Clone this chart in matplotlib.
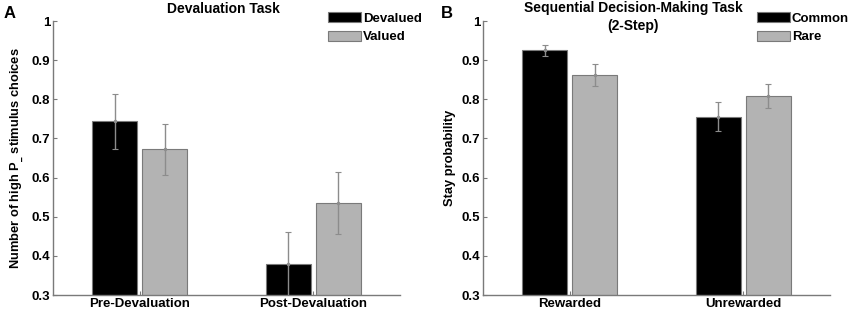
import numpy as np
import matplotlib
matplotlib.use('Agg')
import matplotlib.pyplot as plt
from matplotlib.patches import Patch

plt.rcParams['font.family'] = ['Liberation Sans', 'DejaVu Sans']
plt.rcParams['font.weight'] = 'bold'

# 패널 A 데이터
groups_a = ['Pre-Devaluation', 'Post-Devaluation']
devalued = [0.744, 0.379]
devalued_err = [0.070, 0.083]
valued = [0.672, 0.535]
valued_err = [0.065, 0.080]

# 패널 B 데이터
groups_b = ['Rewarded', 'Unrewarded']
common = [0.925, 0.756]
common_err = [0.014, 0.037]
rare = [0.862, 0.809]
rare_err = [0.028, 0.031]

black = '#000000'
gray = '#b3b3b3'
edge = '#7a7a7a'
errc = '#8c8c8c'

fig = plt.figure(figsize=(8.51, 3.10), dpi=100)
W, H = 851, 310


def make_axes(x0, x1, y_top=21, y_bot=295):
    return fig.add_axes([x0 / W, 1 - y_bot / H, (x1 - x0) / W, (y_bot - y_top) / H])


def draw_panel(ax, groups, v1, e1, v2, e2, ylabel):
    x = np.arange(1, len(groups) + 1)
    off = 0.143
    w = 0.26
    ax.bar(x - off, v1, w, color=black, edgecolor=edge, linewidth=0.8, zorder=2)
    ax.bar(x + off, v2, w, color=gray, edgecolor=edge, linewidth=0.8, zorder=2)
    for xs, vs, es in [(x - off, v1, e1), (x + off, v2, e2)]:
        ax.errorbar(xs, vs, yerr=es, fmt='.', color=errc, ecolor=errc,
                    elinewidth=1.0, capsize=2.5, capthick=0.8, markersize=3, zorder=3)
    ax.set_xlim(0.5, len(groups) + 0.5)
    ax.set_ylim(0.3, 1.0)
    ax.set_yticks([0.3, 0.4, 0.5, 0.6, 0.7, 0.8, 0.9, 1.0])
    ax.set_yticklabels(['0.3', '0.4', '0.5', '0.6', '0.7', '0.8', '0.9', '1'])
    ax.set_xticks(x)
    ax.set_xticklabels(groups)
    ax.tick_params(direction='in', length=3, color=edge, labelsize=9.5, pad=2)
    for lab in ax.get_xticklabels() + ax.get_yticklabels():
        lab.set_fontweight('bold')
    ax.spines['top'].set_visible(False)
    ax.spines['right'].set_visible(False)
    for s in ['left', 'bottom']:
        ax.spines[s].set_color(edge)
        ax.spines[s].set_linewidth(1.0)
    ax.set_ylabel(ylabel, fontsize=9.3, fontweight='bold', labelpad=4)


ax_a = make_axes(53, 400)
draw_panel(ax_a, groups_a, devalued, devalued_err, valued, valued_err,
           'Number of high P$_{\\_}$ stimulus choices')
ax_b = make_axes(483, 830)
draw_panel(ax_b, groups_b, common, common_err, rare, rare_err, 'Stay probability')

# 제목 및 패널 문자
fig.text(223 / W, 1 - 9 / H, 'Devaluation Task', ha='center', va='center',
         fontsize=10, fontweight='bold')
fig.text(633 / W, 1 - 8 / H, 'Sequential Decision-Making Task', ha='center', va='center',
         fontsize=10, fontweight='bold')
fig.text(633 / W, 1 - 26 / H, '(2-Step)', ha='center', va='center',
         fontsize=10, fontweight='bold')
fig.text(10 / W, 1 - 13 / H, 'A', ha='center', va='center', fontsize=12, fontweight='bold')
fig.text(447 / W, 1 - 13 / H, 'B', ha='center', va='center', fontsize=12, fontweight='bold')

# 범례
for labels, x0 in [(['Devalued', 'Valued'], 328), (['Common', 'Rare'], 757)]:
    handles = [Patch(facecolor=black, edgecolor=edge, linewidth=0.8),
               Patch(facecolor=gray, edgecolor=edge, linewidth=0.8)]
    leg = fig.legend(handles, labels, loc='upper left',
                     bbox_to_anchor=(x0 / W, 1 - 12 / H), frameon=False,
                     borderpad=0, borderaxespad=0, handlelength=2.5, handleheight=0.8,
                     handletextpad=0.15, labelspacing=0.45,
                     prop={'size': 9.5, 'weight': 'bold'})

fig.savefig('out.png', dpi=100)
